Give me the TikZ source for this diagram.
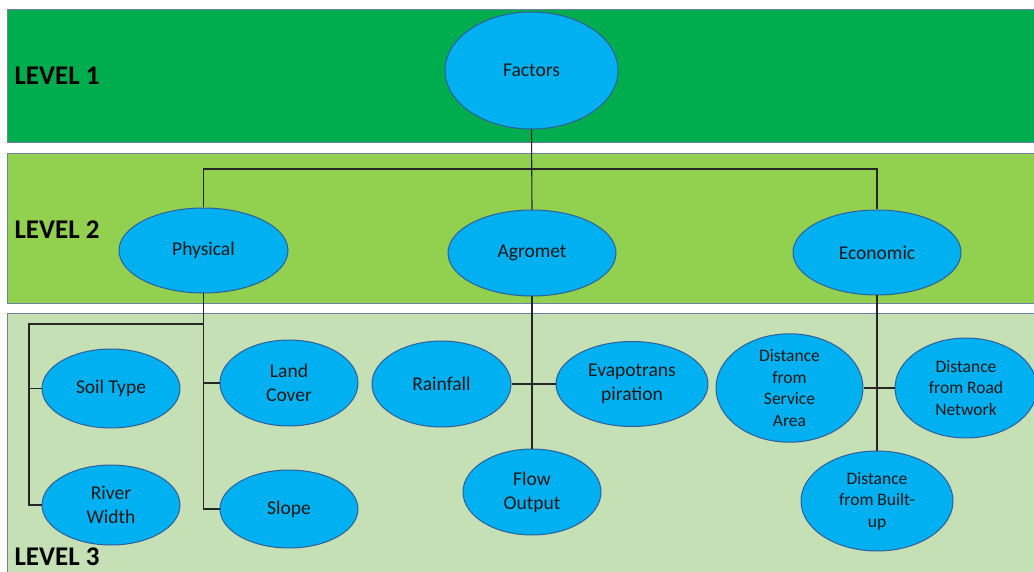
\documentclass[tikz,border=0pt]{standalone}
\usepackage{fontspec}
\setmainfont{Carlito}
\usetikzlibrary{shapes.geometric}
\definecolor{lvlone}{HTML}{00AD4E}
\definecolor{lvltwo}{HTML}{92D050}
\definecolor{lvlthree}{HTML}{C5E0B4}
\definecolor{bandedge}{HTML}{6F82A6}
\definecolor{ellfill}{HTML}{00B0F0}
\definecolor{elledge}{HTML}{2F5F9A}
\definecolor{linecol}{HTML}{262626}
\tikzset{
  band/.style={draw=bandedge, line width=1pt},
  factor/.style={ellipse, draw=elledge, fill=ellfill, line width=1pt, inner sep=0pt,
    align=center, text=black!90, font=\fontsize{19.5}{24}\selectfont},
  small/.style={font=\fontsize{17.5}{21.5}\selectfont},
  lvl/.style={anchor=west, font=\bfseries\fontsize{27}{30}\selectfont, text=black},
  conn/.style={draw=linecol, line width=1.1pt}
}
\begin{document}
\begin{tikzpicture}[x=1pt,y=-1pt]
\useasboundingbox (0,0) rectangle (1034,572);
\fill[white] (0,0) rectangle (1034,572);
% bands
\draw[band, fill=lvlone] (7,10) rectangle (1042,143);
\draw[band, fill=lvltwo] (7,154) rectangle (1042,303);
\draw[band, fill=lvlthree] (7,313) rectangle (1042,580);
\node[lvl] (l1) at (11,76) {LEVEL 1};
\node[lvl] (l2) at (11,230) {LEVEL 2};
\node[lvl] (l3) at (11,557) {LEVEL 3};
% nodes
\node[factor, minimum width=173, minimum height=117] (factors) at (531.5,70.5) {Factors};
\node[factor, minimum width=169, minimum height=85] (phys) at (203.5,250.5) {Physical};
\node[factor, minimum width=168, minimum height=86] (agro) at (532,253) {Agromet};
\node[factor, minimum width=168, minimum height=85] (econ) at (877,252.5) {Economic};
\node[factor, minimum width=138, minimum height=79] (soil) at (111,388.5) {Soil Type};
\node[factor, minimum width=138, minimum height=80] (river) at (111,505) {River\\Width};
\node[factor, minimum width=138, minimum height=86] (land) at (289,383) {Land\\Cover};
\node[factor, minimum width=138, minimum height=78] (slope) at (289,509) {Slope};
\node[factor, minimum width=139, minimum height=86] (rain) at (441.5,384) {Rainfall};
\node[factor, minimum width=152, minimum height=85] (evap) at (632,384) {Evapotrans\\piration};
\node[factor, minimum width=138, minimum height=86] (flow) at (532,492) {Flow\\Output};
\node[factor, small, minimum width=147, minimum height=100] (dsa) at (789.5,388) {Distance\\from\\Service\\Area};
\node[factor, small, minimum width=142, minimum height=100] (drn) at (966,388) {Distance\\from Road\\Network};
\node[factor, small, minimum width=152, minimum height=100] (dbu) at (877,501) {Distance\\from Built-\\up};
% connectors
\coordinate (hbar) at (0,169);
\draw[conn] (factors.south) -- (agro.north);
\draw[conn] (phys.north) -- (phys.north |- hbar) -- (econ.north |- hbar) -- (econ.north);
\coordinate (lft) at (29,324);
\draw[conn] (phys.south) -- (phys.south |- slope.west) -- (slope.west);
\draw[conn] (phys.south |- land.west) -- (land.west);
\draw[conn] (phys.south |- lft) -- (lft) -- (lft |- river.west) -- (river.west);
\draw[conn] (lft |- soil.west) -- (soil.west);
\draw[conn] (rain.east) -- (evap.west);
\draw[conn] (agro.south) -- (flow.north);
\draw[conn] (dsa.east) -- (drn.west);
\draw[conn] (econ.south) -- (dbu.north);
\end{tikzpicture}
\end{document}
